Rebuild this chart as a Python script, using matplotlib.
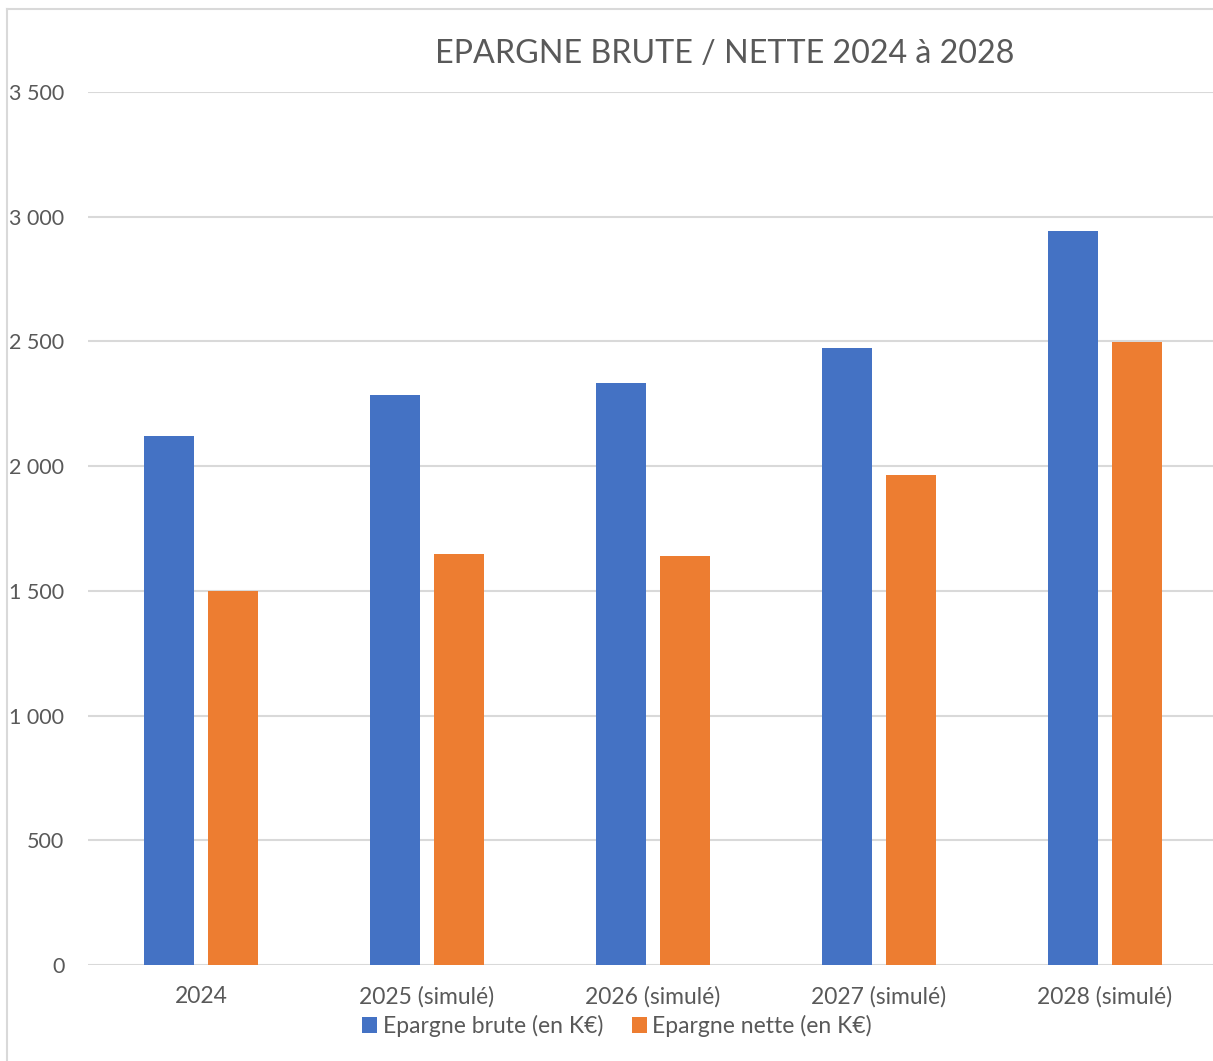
import matplotlib
matplotlib.use('Agg')
import matplotlib.pyplot as plt
import numpy as np
from matplotlib.ticker import FuncFormatter

annees = ['2024', '2025 (simulé)', '2026 (simulé)', '2027 (simulé)', '2028 (simulé)']
brute = [2121, 2285, 2334, 2474, 2943]
nette = [1500, 1648, 1640, 1965, 2498]

bleu = '#4472C4'
orange = '#ED7D31'
gris = '#595959'

plt.rcParams['font.family'] = ['Lato', 'DejaVu Sans']

fig = plt.figure(figsize=(12.13, 10.61), dpi=100)
ax = fig.add_axes([88 / 1213, 1 - 965 / 1061, 1 - 88 / 1213, (965 - 92) / 1061])

x = np.arange(len(annees))
largeur = 0.221
ax.bar(x - 0.1425, brute, largeur, color=bleu, label='Epargne brute (en K€)', zorder=3)
ax.bar(x + 0.1425, nette, largeur, color=orange, label='Epargne nette (en K€)', zorder=3)

ax.set_ylim(0, 3500)
ax.set_xlim(-0.5, 4.478)
ax.set_yticks(range(0, 3501, 500))
ax.yaxis.set_major_formatter(FuncFormatter(lambda v, p: f'{int(v):,}'.replace(',', ' ')))
ax.set_xticks(x)
ax.set_xticklabels(annees)
ax.tick_params(axis='both', length=0, colors=gris, labelsize=15.5)
ax.tick_params(axis='x', labelsize=16.5, pad=15)
ax.tick_params(axis='y', pad=17)
ax.grid(axis='y', color='#d9d9d9', linewidth=1.5, zorder=0)
for s in ax.spines.values():
    s.set_visible(False)

fig.text(725 / 1213, 1 - 54 / 1061, 'EPARGNE BRUTE / NETTE 2024 à 2028', ha='center', va='center',
         fontsize=23.2, color=gris)

fig.legend(loc='center', bbox_to_anchor=(617 / 1213, 1 - 1026 / 1061), ncol=2, frameon=False,
           fontsize=16.5, labelcolor=gris, handlelength=0.65, handleheight=0.65, handletextpad=0.25,
           columnspacing=1.25)

# cadre du graphique
fig.add_artist(plt.Line2D([7 / 1213, 7 / 1213], [0, 1 - 9 / 1061], color='#d9d9d9', linewidth=1.5))
fig.add_artist(plt.Line2D([7 / 1213, 1], [1 - 9 / 1061, 1 - 9 / 1061], color='#d9d9d9', linewidth=1.5))

fig.savefig('out.png', dpi=100)
